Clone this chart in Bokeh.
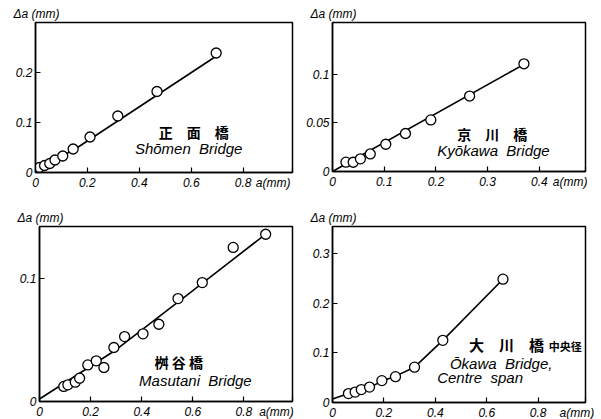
from bokeh.plotting import figure
from bokeh.layouts import column, row
from bokeh.models import Range1d, FixedTicker, Label
from bokeh.embed import file_html
from bokeh.resources import INLINE

# ---------------- data ----------------
# Shomen Bridge
shomen_a = [0.015, 0.035, 0.055, 0.075, 0.105, 0.145, 0.21, 0.317, 0.468, 0.696]
shomen_da = [0.010, 0.014, 0.018, 0.025, 0.033, 0.047, 0.071, 0.113, 0.162, 0.239]
shomen_fit_a = [0.0, 0.15, 0.70]
shomen_fit_da = [0.006, 0.046, 0.234]

# Kyokawa Bridge
kyokawa_a = [0.026, 0.040, 0.054, 0.073, 0.103, 0.141, 0.190, 0.265, 0.370]
kyokawa_da = [0.0096, 0.0095, 0.013, 0.018, 0.028, 0.039, 0.053, 0.0775, 0.1106]
kyokawa_fit_a = [0.0, 0.370]
kyokawa_fit_da = [0.0, 0.110]

# Masutani Bridge
masutani_a = [0.095, 0.111, 0.140, 0.157, 0.189, 0.222, 0.252, 0.291, 0.333,
              0.405, 0.467, 0.542, 0.637, 0.758, 0.885]
masutani_da = [0.0122, 0.0135, 0.0157, 0.0189, 0.0297, 0.0330, 0.0276, 0.0438, 0.0527,
               0.0549, 0.0627, 0.0835, 0.0965, 0.125, 0.1357]
masutani_fit_a = [0.0, 0.30, 0.60, 0.88]
masutani_fit_da = [0.002, 0.042, 0.090, 0.135]

# Okawa Bridge, centre span
okawa_a = [0.062, 0.088, 0.112, 0.144, 0.192, 0.245, 0.319, 0.429, 0.663]
okawa_da = [0.018, 0.021, 0.026, 0.031, 0.044, 0.052, 0.071, 0.125, 0.248]
okawa_fit_a = [0.0, 0.062, 0.144, 0.192, 0.245, 0.319, 0.429, 0.663]
okawa_fit_da = [0.007, 0.018, 0.030, 0.043, 0.053, 0.071, 0.125, 0.248]

# ticks and axis texts
xticks_08 = [0, 0.2, 0.4, 0.6, 0.8]
xtick_labels_08 = ["0", "0.2", "0.4", "0.6", "0.8"]
xticks_04 = [0, 0.1, 0.2, 0.3, 0.4]
xtick_labels_04 = ["0", "0.1", "0.2", "0.3", "0.4"]
yticks_shomen = [0, 0.1, 0.2]
ytick_labels_shomen = ["0", "0.1", "0.2"]
yticks_kyokawa = [0, 0.05, 0.1]
ytick_labels_kyokawa = ["0", "0.05", "0.1"]
yticks_masutani = [0, 0.1]
ytick_labels_masutani = ["0", "0.1"]
yticks_okawa = [0, 0.1, 0.2, 0.3]
ytick_labels_okawa = ["0", "0.1", "0.2", "0.3"]
x_title = "a(mm)"
y_title = "Δa (mm)"

TICK_FONT = "Liberation Sans"
TEXT_FONT = "Liberation Sans"
CJK_FONT = "Noto Sans CJK JP"
NB = "\u00a0"


def make_panel(xr, yr, fw, fh, bl, br, bt, bb, xt, xtl, yt, ytl, xa, ya, fa, fd, pad):
    p = figure(frame_width=fw, frame_height=fh,
               min_border_left=bl, min_border_right=br,
               min_border_top=bt, min_border_bottom=bb,
               x_range=Range1d(*xr), y_range=Range1d(*yr),
               title=y_title,
               output_backend="svg", toolbar_location=None,
               background_fill_color="white", border_fill_color="white")
    p.title.align = "left"
    p.title.offset = -22
    p.title.standoff = 3
    p.title.text_font = TEXT_FONT
    p.title.text_font_style = "italic"
    p.title.text_font_size = "12px"
    p.title.text_color = "black"
    p.xgrid.visible = False
    p.ygrid.visible = False
    p.outline_line_color = "black"
    p.outline_line_width = 1.5
    # the x-axis title sits at the right end of the x axis, level with the tick labels
    xt_all = list(xt) + [xr[1]]
    xtl_all = list(xtl) + [x_title + NB * pad]
    for ax, ticks, labels in ((p.xaxis[0], xt_all, xtl_all), (p.yaxis[0], yt, ytl)):
        ax.ticker = FixedTicker(ticks=ticks)
        ax.major_label_overrides = {t: l for t, l in zip(ticks, labels)}
        ax.axis_line_color = "black"
        ax.axis_line_width = 1.5
        ax.major_tick_line_color = "black"
        ax.major_tick_line_width = 1.2
        ax.major_tick_in = 5
        ax.major_tick_out = 0
        ax.minor_tick_line_color = None
        ax.major_label_text_font = TICK_FONT
        ax.major_label_text_font_style = "italic"
        ax.major_label_text_font_size = "12px"
        ax.major_label_text_color = "black"
        ax.major_label_standoff = 3
    p.line(fa, fd, line_color="black", line_width=1.6)
    p.scatter(xa, ya, marker="circle", size=10, fill_color="white",
              line_color="black", line_width=1.3)
    return p


def cjk(p, x, y, txt, size="14px"):
    p.add_layout(Label(x=x, y=y, text=txt, text_font=CJK_FONT, text_font_style="bold",
                       text_font_size=size, text_align="center", text_baseline="middle",
                       text_color="black"))


def eng(p, x, y, txt, align="center"):
    p.add_layout(Label(x=x, y=y, text=txt, text_font=TEXT_FONT, text_font_style="italic",
                       text_font_size="15px", text_align=align, text_baseline="middle",
                       text_color="black"))


p1 = make_panel((0, 0.99), (0, 0.3), 257, 150, 35, 8, 22, 33,
                xticks_08, xtick_labels_08, yticks_shomen, ytick_labels_shomen,
                shomen_a, shomen_da, shomen_fit_a, shomen_fit_da, 3)
cjk(p1, 0.61, 0.081, "正　面　橋")
eng(p1, 0.59, 0.048, "Shōmen" + NB * 2 + "Bridge")

p2 = make_panel((0, 0.489), (0, 0.153), 253, 149, 32, 12, 18, 38,
                xticks_04, xtick_labels_04, yticks_kyokawa, ytick_labels_kyokawa,
                kyokawa_a, kyokawa_da, kyokawa_fit_a, kyokawa_fit_da, 3)
cjk(p2, 0.309, 0.0387, "京　川　橋")
eng(p2, 0.311, 0.0213, "Kyōkawa" + NB * 2 + "Bridge")

p3 = make_panel((0, 0.99), (0, 0.142), 253, 175, 39, 8, 20, 17,
                xticks_08, xtick_labels_08, yticks_masutani, ytick_labels_masutani,
                masutani_a, masutani_da, masutani_fit_a, masutani_fit_da, 2)
cjk(p3, 0.545, 0.0324, "桝 谷 橋")
eng(p3, 0.61, 0.0174, "Masutani" + NB * 2 + "Bridge")

p4 = make_panel((0, 0.984), (0, 0.354), 253, 176, 32, 12, 16, 20,
                xticks_08, xtick_labels_08, yticks_okawa, ytick_labels_okawa,
                okawa_a, okawa_da, okawa_fit_a, okawa_fit_da, 1)
cjk(p4, 0.677, 0.116, "大　川　橋", size="15px")
cjk(p4, 0.905, 0.113, "中央径", size="11px")
eng(p4, 0.656, 0.079, "Ōkawa" + NB * 2 + "Bridge,")
eng(p4, 0.574, 0.050, "Centre" + NB * 2 + "span")

layout = column(row(p1, p2), row(p3, p4))

open("out.html", "w").write(file_html(layout, INLINE))
